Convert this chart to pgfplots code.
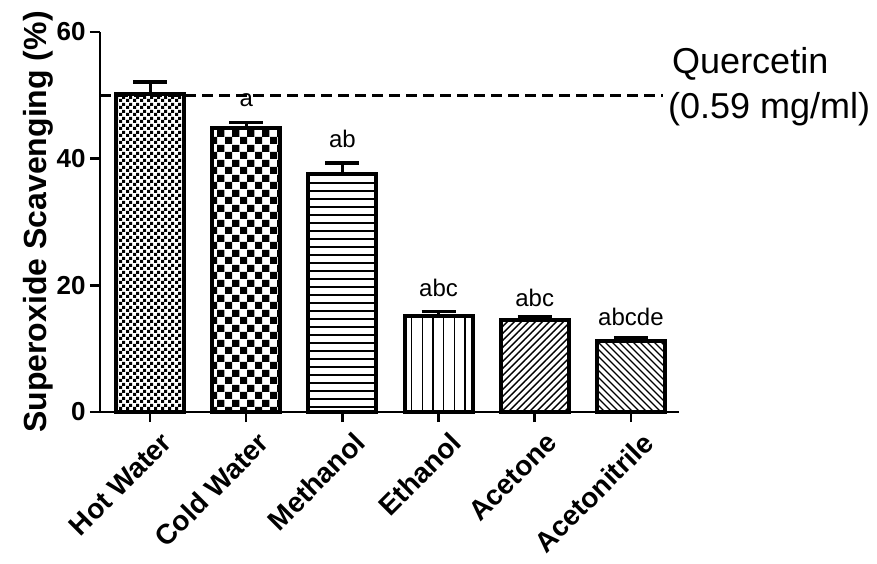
\documentclass[border=0pt]{standalone}
\usepackage{pgfplots}
\pgfplotsset{compat=1.18}
\usepackage{fontspec}
\setmainfont{Liberation Sans}
\usetikzlibrary{patterns}

\pgfdeclarepatternformonly{finecheck}{\pgfqpoint{0pt}{0pt}}{\pgfqpoint{7pt}{7pt}}{\pgfqpoint{7pt}{7pt}}{%
  \pgfpathrectangle{\pgfqpoint{0pt}{0pt}}{\pgfqpoint{3.5pt}{3.5pt}}%
  \pgfpathrectangle{\pgfqpoint{3.5pt}{3.5pt}}{\pgfqpoint{3.5pt}{3.5pt}}%
  \pgfusepath{fill}}
\pgfdeclarepatternformonly{bigcheck}{\pgfqpoint{0pt}{0pt}}{\pgfqpoint{15pt}{15pt}}{\pgfqpoint{15pt}{15pt}}{%
  \pgfpathrectangle{\pgfqpoint{0pt}{0pt}}{\pgfqpoint{7.5pt}{7.5pt}}%
  \pgfpathrectangle{\pgfqpoint{7.5pt}{7.5pt}}{\pgfqpoint{7.5pt}{7.5pt}}%
  \pgfusepath{fill}}
\pgfdeclarepatternformonly{hlines}{\pgfqpoint{-1pt}{-1pt}}{\pgfqpoint{9pt}{9pt}}{\pgfqpoint{8pt}{8pt}}{%
  \pgfsetlinewidth{1.3pt}%
  \pgfpathmoveto{\pgfqpoint{-1pt}{4pt}}\pgfpathlineto{\pgfqpoint{9pt}{4pt}}%
  \pgfusepath{stroke}}
\pgfdeclarepatternformonly{vlines}{\pgfqpoint{-1pt}{-1pt}}{\pgfqpoint{11.7pt}{11.7pt}}{\pgfqpoint{10.7pt}{10.7pt}}{%
  \pgfsetlinewidth{1.3pt}%
  \pgfpathmoveto{\pgfqpoint{5pt}{-1pt}}\pgfpathlineto{\pgfqpoint{5pt}{11.7pt}}%
  \pgfusepath{stroke}}
\pgfdeclarepatternformonly{nelines}{\pgfqpoint{-1pt}{-1pt}}{\pgfqpoint{8pt}{8pt}}{\pgfqpoint{7pt}{7pt}}{%
  \pgfsetlinewidth{1.4pt}%
  \pgfpathmoveto{\pgfqpoint{0pt}{0pt}}\pgfpathlineto{\pgfqpoint{7.1pt}{7.1pt}}%
  \pgfusepath{stroke}}
\pgfdeclarepatternformonly{nwlines}{\pgfqpoint{-1pt}{-1pt}}{\pgfqpoint{8pt}{8pt}}{\pgfqpoint{7pt}{7pt}}{%
  \pgfsetlinewidth{1.4pt}%
  \pgfpathmoveto{\pgfqpoint{0pt}{7pt}}\pgfpathlineto{\pgfqpoint{7.1pt}{-0.1pt}}%
  \pgfusepath{stroke}}

\begin{document}
\begin{tikzpicture}
\path[use as bounding box] (-100pt,-151pt) rectangle (777pt,412pt);
\begin{axis}[
  scale only axis,
  width=579pt, height=380pt,
  xmin=-0.52, xmax=5.5,
  ymin=0, ymax=60,
  ytick={0,20,40,60},
  xtick={0,1,2,3,4,5},
  xticklabels={Hot Water,Cold Water,Methanol,Ethanol,Acetone,Acetonitrile},
  axis x line=bottom, axis y line=left,
  axis line style={-, line width=2.5pt},
  tick style={line width=2.5pt, black},
  major tick length=10pt,
  tick align=outside,
  /pgf/number format/assume math mode=true,
  yticklabel style={font=\fontsize{26}{30}\selectfont\bfseries, xshift=-1pt},
  xticklabel style={font=\fontsize{28}{32}\selectfont\bfseries, rotate=45, anchor=north east, inner sep=1pt, xshift=2pt, yshift=-12pt},
  ylabel={Superoxide Scavenging (\%)},
  ylabel style={font=\fontsize{32}{34}\selectfont\bfseries, yshift=-4pt},
  ybar, bar width=68pt, bar shift=0pt,
  error bars/y dir=plus, error bars/y explicit,
  error bars/error bar style={line width=3pt, black},
  error bars/error mark options={rotate=90, mark size=17pt, line width=3.5pt, black},
  clip=false,
]
\addplot[draw=black, line width=4pt, pattern=finecheck] coordinates {(0,50.2) +- (0,1.9)};
\addplot[draw=black, line width=4pt, pattern=bigcheck] coordinates {(1,44.9) +- (0,0.8)};
\addplot[draw=black, line width=4pt, pattern=hlines] coordinates {(2,37.6) +- (0,1.7)};
\addplot[draw=black, line width=4pt, pattern=vlines] coordinates {(3,15.1) +- (0,0.8)};
\addplot[draw=black, line width=4pt, pattern=nelines] coordinates {(4,14.6) +- (0,0.5)};
\addplot[draw=black, line width=4pt, pattern=nwlines] coordinates {(5,11.2) +- (0,0.5)};
\addplot[sharp plot, draw=black, line width=2.5pt, dash pattern=on 11pt off 6pt, forget plot] coordinates {(-0.52,50) (5.33,50)};
\node[anchor=base, font=\fontsize{24}{26}\selectfont] at (axis cs:1,48.2) {a};
\node[anchor=base, font=\fontsize{24}{26}\selectfont] at (axis cs:2,41.7) {ab};
\node[anchor=base, font=\fontsize{24}{26}\selectfont] at (axis cs:3,18.2) {abc};
\node[anchor=base, font=\fontsize{24}{26}\selectfont] at (axis cs:4,16.6) {abc};
\node[anchor=base, font=\fontsize{24}{26}\selectfont] at (axis cs:5,13.7) {abcde};
\end{axis}
\node[anchor=base west, inner sep=0pt, font=\fontsize{36}{40}\selectfont] at (572pt,338pt) {Quercetin};
\node[anchor=base west, inner sep=0pt, font=\fontsize{36}{40}\selectfont] at (568pt,294pt) {(0.59 mg/ml)};
\end{tikzpicture}
\end{document}
